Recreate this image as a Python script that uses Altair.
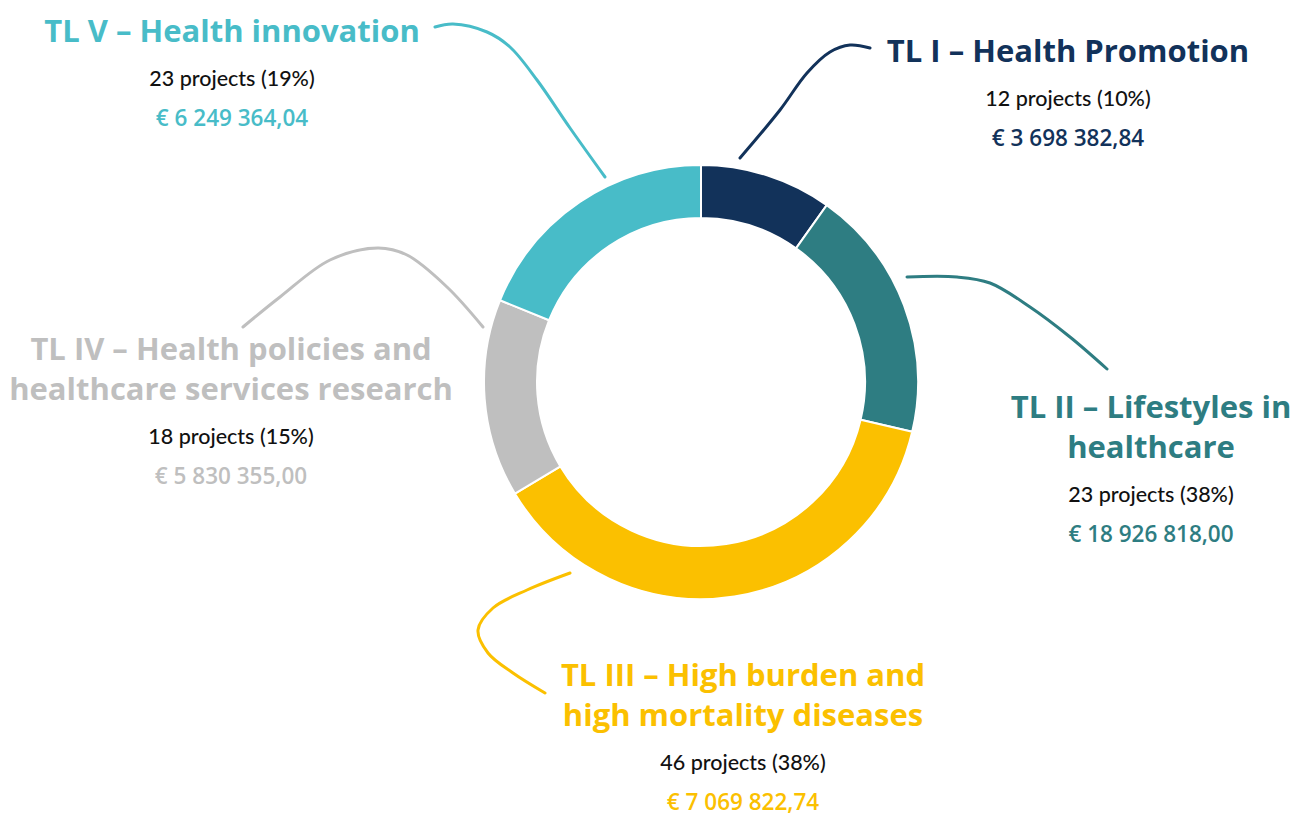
import altair as alt
import pandas as pd

# ---- data ----
categories = ["TL I", "TL II", "TL III", "TL IV", "TL V"]
title_lines = [
    ["TL I – Health Promotion"],
    ["TL II – Lifestyles in", "healthcare"],
    ["TL III – High burden and", "high mortality diseases"],
    ["TL IV – Health policies and", "healthcare services research"],
    ["TL V – Health innovation"],
]
projects = [12, 23, 46, 18, 23]
pct_labels = ["10%", "38%", "38%", "15%", "19%"]
amounts = ["3 698 382,84", "18 926 818,00", "7 069 822,74", "5 830 355,00", "6 249 364,04"]
colors = ["#12325a", "#2e7d82", "#fbc000", "#bfbfbf", "#48bcc8"]

# ---- layout (page pixel coordinates) ----
W, H = 1285, 808
center = (701, 382)
outer_r, inner_r = 217, 164
label_x = [1068, 1151, 743, 231, 232]
label_y0 = [62, 418, 686, 360, 42]   # baseline of first title line
title_step, proj_gap, euro_gap = 39.5, 44, 40

connectors = [
    [(870, 48), (850, 45), (830, 52), (807, 73), (780, 110), (740, 158)],
    [(907, 277), (957, 277), (990, 283), (1030, 307), (1070, 337), (1107, 369)],
    [(570, 573), (527, 590), (493, 608), (478, 630), (488, 653), (513, 673), (545, 693)],
    [(243, 327), (280, 297), (330, 260), (378, 248), (407, 255), (447, 287), (483, 327)],
    [(435, 27), (453, 24), (487, 32), (510, 47), (537, 80), (570, 128), (605, 177)],
]

TITLE_FONT = "Open Sans"
BODY_FONT = "Lato"

# ---- tables ----
donut_df = pd.DataFrame({"cat": categories, "projects": projects,
                         "idx": list(range(len(categories)))})

rows = []
for i, cat in enumerate(categories):
    y = label_y0[i]
    for ln in title_lines[i]:
        rows.append({"cat": cat, "kind": "title", "text": ln, "x": label_x[i], "y": y})
        y += title_step
    y = y - title_step + proj_gap
    rows.append({"cat": cat, "kind": "proj", "text": f"{projects[i]} projects ({pct_labels[i]})",
                 "x": label_x[i], "y": y})
    rows.append({"cat": cat, "kind": "euro", "text": f"€ {amounts[i]}", "x": label_x[i], "y": y + euro_gap})
text_df = pd.DataFrame(rows)

crow = []
for i, pts in enumerate(connectors):
    for j, (px, py) in enumerate(pts):
        crow.append({"cat": categories[i], "i": j, "x": px, "y": py})
conn_df = pd.DataFrame(crow)

color_scale = alt.Scale(domain=categories, range=colors)
xs = alt.Scale(domain=[8, 8 + W], range=[0, W])
ys = alt.Scale(domain=[8, 8 + H], range=[0, H])

donut = alt.Chart(donut_df).mark_arc(
    outerRadius=outer_r, innerRadius=inner_r, stroke="white", strokeWidth=2
).encode(
    theta=alt.Theta("projects:Q", stack=True),
    order=alt.Order("idx:Q"),
    color=alt.Color("cat:N", scale=color_scale, legend=None),
    x=alt.value(center[0] - 8),
    y=alt.value(center[1] - 8),
)

lines = alt.Chart(conn_df).mark_line(strokeWidth=3, interpolate="catmull-rom", strokeCap="round").encode(
    x=alt.X("x:Q", scale=xs, axis=None),
    y=alt.Y("y:Q", scale=ys, axis=None),
    detail="cat:N",
    order=alt.Order("i:Q"),
    color=alt.Color("cat:N", scale=color_scale, legend=None),
)

titles = alt.Chart(text_df).transform_filter(alt.datum.kind == "title").mark_text(
    font=TITLE_FONT, fontSize=31, fontWeight="bold", align="center", baseline="alphabetic"
).encode(
    x=alt.X("x:Q", scale=xs, axis=None),
    y=alt.Y("y:Q", scale=ys, axis=None),
    text="text:N",
    color=alt.Color("cat:N", scale=color_scale, legend=None),
)

projs = alt.Chart(text_df).transform_filter(alt.datum.kind == "proj").mark_text(
    font=BODY_FONT, fontSize=21.5, fontWeight=500, align="center", baseline="alphabetic", color="#111111"
).encode(
    x=alt.X("x:Q", scale=xs, axis=None),
    y=alt.Y("y:Q", scale=ys, axis=None),
    text="text:N",
)

euros = alt.Chart(text_df).transform_filter(alt.datum.kind == "euro").mark_text(
    font=TITLE_FONT, fontSize=22.5, fontWeight=600, align="center", baseline="alphabetic"
).encode(
    x=alt.X("x:Q", scale=xs, axis=None),
    y=alt.Y("y:Q", scale=ys, axis=None),
    text="text:N",
    color=alt.Color("cat:N", scale=color_scale, legend=None),
)

chart = alt.layer(donut, lines, titles, projs, euros).properties(
    width=W, height=H, padding=0, autosize=alt.AutoSizeParams(type="none")
).configure(background="white").configure_view(stroke=None, strokeWidth=0)

chart.save("out.html", embed_options={"renderer": "svg", "actions": False})
